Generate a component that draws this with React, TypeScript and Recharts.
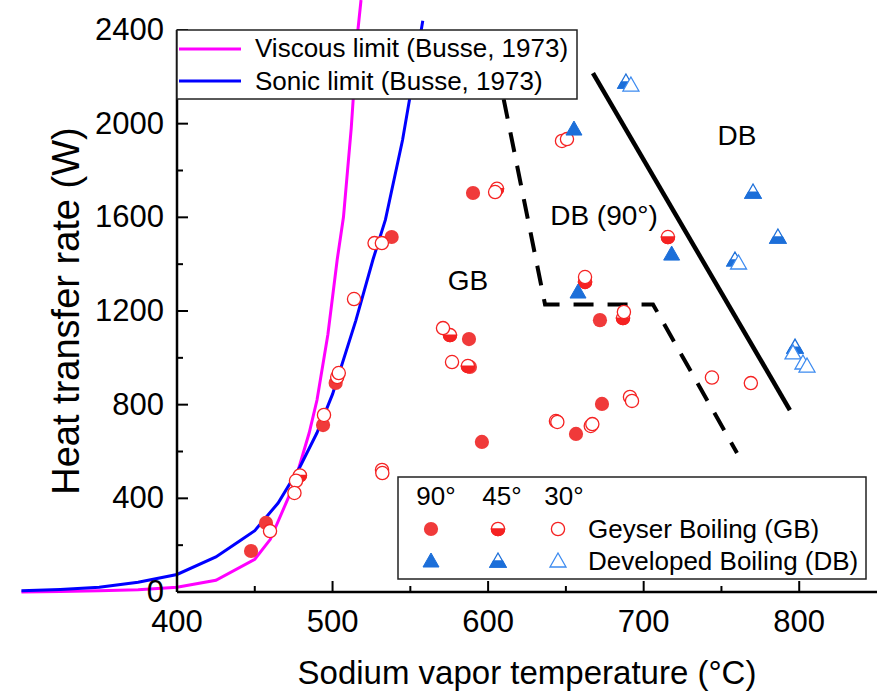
import React from 'react';
import { ComposedChart, Line, Scatter, XAxis, YAxis, Legend } from 'recharts';

const FONT = '"Liberation Sans", Arial, Helvetica, sans-serif';

// Busse (1973) limits
const viscousT = [300, 325, 350, 375, 400, 425, 450, 460, 475, 485, 490, 497, 503, 507, 512, 516.3, 518.3];
const viscousQ = [0, 2, 5, 10, 20, 50, 140, 225, 455, 680, 820, 1100, 1420, 1600, 1980, 2400, 2528];
const sonicT = [300, 325, 350, 375, 400, 425, 440, 450, 465, 479, 490, 500, 515, 526, 534, 545, 552, 558];
const sonicQ = [5, 11, 20, 42, 75, 150, 217, 262, 380, 534, 680, 845, 1160, 1420, 1590, 1930, 2200, 2440];

// regime boundaries
const solidT = [667.4, 794];
const solidQ = [2216, 777];
const dashedT = [610, 636.6, 706, 760];
const dashedQ = [2105, 1228, 1228, 594];

// Geyser boiling
const gb90T = [447.6, 457.2, 493.9, 502, 538, 590.3, 587.7, 588.3, 596, 671.9, 673.2, 656.5];
const gb90Q = [175, 295, 713, 893, 1516, 1704, 1080, 961, 641, 1161, 803, 675];
const gb45T = [479, 575.5, 587, 662.3, 686.7, 715.6, 605.7];
const gb45Q = [498, 1097, 965, 1324, 1170, 1516, 1722];
const gb30T = [459.8, 494.5, 503, 504, 527, 531.7, 513.8, 531.8, 532, 476.5, 475.5, 604.5, 571, 576.8, 662.3, 687.3, 647.5, 650.7, 743.9, 768.9, 691.2, 692.5, 643.6, 644.5, 666, 667];
const gb30Q = [260, 756, 918, 935, 1490, 1490, 1251, 521, 508, 475, 423, 1708, 1127, 982, 1345, 1196, 1926, 1934, 916, 892, 833, 816, 730, 726, 709, 717];

// Developed boiling
const db90T = [655.2, 718, 657.8];
const db90Q = [1977, 1443, 1281];
const db45T = [688.6, 770.3, 786.3, 758.7, 797.3];
const db45Q = [2178, 1708, 1516, 1418, 1046];
const db30T = [691.8, 761, 796, 802.4, 805];
const db30Q = [2165, 1405, 1021, 978, 965];

const xTicks = [400, 450, 500, 550, 600, 650, 700, 750, 800];
const xLabelTicks = [400, 500, 600, 700, 800];
const yTicks = [0, 200, 400, 600, 800, 1000, 1200, 1400, 1600, 1800, 2000, 2200, 2400];
const yLabelTicks = [0, 400, 800, 1200, 1600, 2000, 2400];

const zip = (ts: number[], qs: number[]) => ts.map((T, i) => ({ T, Q: qs[i] }));

const RED = '#F52222';
const RED_FILL = '#F03A3A';
const BLUE = '#1C6FD9';
const BLUE_LIGHT = '#3D8BF0';

const R = 6.6;
const Circle90 = ({ cx, cy }: any) => <circle cx={cx} cy={cy} r={R + 0.5} fill={RED_FILL} />;
const Circle45 = ({ cx, cy }: any) => (
  <g>
    <circle cx={cx} cy={cy} r={R} fill="#fff" stroke={RED} strokeWidth={1.3} />
    <path d={`M${cx - R},${cy} A${R},${R} 0 0 0 ${cx + R},${cy} Z`} fill={RED} stroke={RED} strokeWidth={1.3} />
  </g>
);
const Circle30 = ({ cx, cy }: any) => <circle cx={cx} cy={cy} r={R} fill="#fff" stroke={RED} strokeWidth={1.3} />;

const triPts = (cx: number, cy: number) => `${cx},${cy - 8} ${cx + 8},${cy + 6} ${cx - 8},${cy + 6}`;
const Tri90 = ({ cx, cy }: any) => <polygon points={triPts(cx, cy)} fill={BLUE} stroke={BLUE} strokeWidth={1} />;
const Tri45 = ({ cx, cy }: any) => (
  <g>
    <polygon points={triPts(cx, cy)} fill="#fff" stroke={BLUE} strokeWidth={1.3} />
    <polygon points={`${cx - 4.6},${cy} ${cx + 4.6},${cy} ${cx + 8},${cy + 6} ${cx - 8},${cy + 6}`} fill={BLUE} stroke={BLUE} strokeWidth={1.3} />
  </g>
);
const Tri30 = ({ cx, cy }: any) => <polygon points={triPts(cx, cy)} fill="#fff" stroke={BLUE_LIGHT} strokeWidth={1.3} />;

const BottomTick = ({ x, y, payload }: any) => {
  const major = xLabelTicks.includes(payload.value);
  return (
    <g>
      <line x1={x} x2={x} y1={y} y2={y - (major ? 11 : 6)} stroke="#000" strokeWidth={2} />
      {major && (
        <text x={x} y={y + 40} textAnchor="middle" fontSize={31} fontFamily={FONT} fill="#000">
          {payload.value}
        </text>
      )}
    </g>
  );
};
const TopTick = ({ x, y, payload }: any) => {
  const major = xLabelTicks.includes(payload.value);
  return <line x1={x} x2={x} y1={y} y2={y + (major ? 11 : 6)} stroke="#000" strokeWidth={2} />;
};
const LeftTick = ({ x, y, payload }: any) => {
  const major = yLabelTicks.includes(payload.value);
  return (
    <g>
      <line x1={x} x2={x + (major ? 11 : 6)} y1={y} y2={y} stroke="#000" strokeWidth={2} />
      {major && (
        <text x={x - 13} y={y + 10} textAnchor="end" fontSize={31} fontFamily={FONT} fill="#000">
          {payload.value}
        </text>
      )}
    </g>
  );
};
const RightTick = ({ x, y, payload }: any) => {
  const major = yLabelTicks.includes(payload.value);
  return <line x1={x} x2={x - (major ? 11 : 6)} y1={y} y2={y} stroke="#000" strokeWidth={2} />;
};

const LegendOverlay = () => (
  <svg width={879} height={693} style={{ position: 'absolute', left: 0, top: 0 }} fontFamily={FONT}>
    <rect x={177} y={30} width={400} height={69} fill="#fff" stroke="#222" strokeWidth={1.5} />
    <line x1={179} x2={241} y1={49} y2={49} stroke="#FF00FF" strokeWidth={3} />
    <line x1={179} x2={241} y1={81} y2={81} stroke="#0000FF" strokeWidth={3} />
    <text x={255} y={57} fontSize={26} fill="#000">Viscous limit (Busse, 1973)</text>
    <text x={255} y={90} fontSize={26} fill="#000">Sonic limit (Busse, 1973)</text>

    <rect x={398} y={477} width={468} height={102} fill="#fff" stroke="#222" strokeWidth={1.5} />
    <text x={436} y={505} fontSize={26} textAnchor="middle" fill="#000">90°</text>
    <text x={502} y={505} fontSize={26} textAnchor="middle" fill="#000">45°</text>
    <text x={564} y={505} fontSize={26} textAnchor="middle" fill="#000">30°</text>
    <Circle90 cx={431} cy={529} />
    <Circle45 cx={498} cy={529} />
    <Circle30 cx={558} cy={529} />
    <Tri90 cx={431} cy={561} />
    <Tri45 cx={498} cy={561} />
    <Tri30 cx={558} cy={561} />
    <text x={588} y={538} fontSize={26} fill="#000">Geyser Boiling (GB)</text>
    <text x={588} y={570} fontSize={26} fill="#000">Developed Boiling (DB)</text>
  </svg>
);

export default function App() {
  return (
    <div style={{ position: 'absolute', left: 0, top: 0 }}>
      <style>{`.unclip, .unclip * { clip-path: none !important; }`}</style>
      <ComposedChart width={879} height={693} margin={{ top: 30, right: 2, bottom: 41, left: 77 }}>
        <XAxis
          dataKey="T"
          type="number"
          domain={[400, 850]}
          allowDataOverflow
          ticks={xTicks}
          interval={0}
          height={60}
          tickSize={0}
          tickMargin={0}
          tickLine={false}
          tick={BottomTick}
          axisLine={{ stroke: '#000', strokeWidth: 2.5 }}
        />
        <XAxis
          xAxisId="top"
          orientation="top"
          type="number"
          domain={[400, 850]}
          allowDataOverflow
          ticks={xTicks}
          interval={0}
          height={0}
          tickSize={0}
          tickMargin={0}
          tickLine={false}
          tick={TopTick}
          axisLine={{ stroke: '#000', strokeWidth: 2.5 }}
        />
        <YAxis
          dataKey="Q"
          type="number"
          domain={[0, 2400]}
          allowDataOverflow
          ticks={yTicks}
          interval={0}
          width={100}
          tickSize={0}
          tickMargin={0}
          tickLine={false}
          tick={LeftTick}
          axisLine={{ stroke: '#000', strokeWidth: 2.5 }}
        />
        <YAxis
          yAxisId="right"
          orientation="right"
          type="number"
          domain={[0, 2400]}
          allowDataOverflow
          ticks={yTicks}
          interval={0}
          width={0}
          tickSize={0}
          tickMargin={0}
          tickLine={false}
          tick={RightTick}
          axisLine={{ stroke: '#000', strokeWidth: 2.5 }}
        />
        <Line className="unclip" data={zip(viscousT, viscousQ)} dataKey="Q" type="linear" stroke="#FF00FF" strokeWidth={3} dot={false} isAnimationActive={false} />
        <Line className="unclip" data={zip(sonicT, sonicQ)} dataKey="Q" type="linear" stroke="#0000FF" strokeWidth={3} dot={false} isAnimationActive={false} />
        <Line data={zip(solidT, solidQ)} dataKey="Q" type="linear" stroke="#000" strokeWidth={4.5} dot={false} isAnimationActive={false} />
        <Line data={zip(dashedT, dashedQ)} dataKey="Q" type="linear" stroke="#000" strokeWidth={4} strokeDasharray="20 14" dot={false} isAnimationActive={false} />
        <Scatter data={zip(gb90T, gb90Q)} shape={(p: any) => <Circle90 {...p} />} isAnimationActive={false} />
        <Scatter data={zip(gb45T, gb45Q)} shape={(p: any) => <Circle45 {...p} />} isAnimationActive={false} />
        <Scatter data={zip(gb30T, gb30Q)} shape={(p: any) => <Circle30 {...p} />} isAnimationActive={false} />
        <Scatter data={zip(db90T, db90Q)} shape={(p: any) => <Tri90 {...p} />} isAnimationActive={false} />
        <Scatter data={zip(db45T, db45Q)} shape={(p: any) => <Tri45 {...p} />} isAnimationActive={false} />
        <Scatter data={zip(db30T, db30Q)} shape={(p: any) => <Tri30 {...p} />} isAnimationActive={false} />
        <text x={468} y={290} fontSize={28} textAnchor="middle" fontFamily={FONT} fill="#000">GB</text>
        <text x={604} y={225} fontSize={28} textAnchor="middle" fontFamily={FONT} fill="#000">DB (90°)</text>
        <text x={737} y={145} fontSize={28} textAnchor="middle" fontFamily={FONT} fill="#000">DB</text>
        <text x={527} y={684} fontSize={33} textAnchor="middle" fontFamily={FONT} fill="#000">Sodium vapor temperature (°C)</text>
        <text x={79} y={311} fontSize={38} textAnchor="middle" fontFamily={FONT} fill="#000" transform="rotate(-90 79 311)">Heat transfer rate (W)</text>
        <Legend
          layout="horizontal"
          verticalAlign="middle"
          align="center"
          content={() => <LegendOverlay />}
          wrapperStyle={{ left: 0, top: 0, width: 879, height: 693, pointerEvents: 'none' }}
        />
      </ComposedChart>
    </div>
  );
}
